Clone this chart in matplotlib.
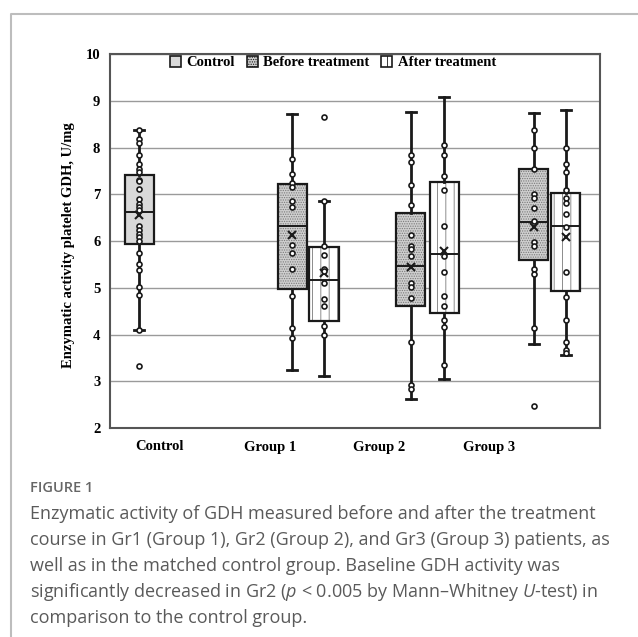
import matplotlib
matplotlib.use("Agg")
import matplotlib.pyplot as plt
from matplotlib.lines import Line2D
from matplotlib.patches import Patch

# ---- data (U/mg) ----
categories = ["Control", "Group 1", "Group 2", "Group 3"]
series = ["Control", "Before treatment", "After treatment"]

box_labels = ["Control", "G1 before", "G1 after", "G2 before", "G2 after", "G3 before", "G3 after"]
box_series = [0, 1, 2, 1, 2, 1, 2]
box_pos = [0.237, 1.486, 1.747, 2.457, 2.727, 3.461, 3.722]
tick_pos = [0.408, 1.306, 2.196, 3.094]

q1 = [5.94, 4.97, 4.29, 4.61, 4.47, 5.59, 4.94]
med = [6.62, 6.33, 5.17, 5.47, 5.72, 6.40, 6.33]
q3 = [7.42, 7.21, 5.87, 6.59, 7.27, 7.55, 7.02]
wlo = [4.10, 3.24, 3.11, 2.61, 3.04, 3.79, 3.56]
whi = [8.38, 8.71, 6.85, 8.77, 9.08, 8.73, 8.81]
means = [6.55, 6.12, 5.32, 5.44, 5.78, 6.29, 6.08]
outliers = [[3.33], [], [8.65], [], [], [2.47], []]

points = [
    [8.38, 8.19, 8.09, 7.84, 7.65, 7.55, 7.48, 7.31, 7.28, 7.11, 6.89, 6.80, 6.73,
     6.67, 6.32, 6.24, 6.16, 6.09, 6.01, 5.74, 5.51, 5.39, 5.01, 4.85, 4.10],
    [7.75, 7.43, 7.25, 7.16, 6.85, 6.72, 5.92, 5.74, 5.40, 4.83, 4.14, 3.92],
    [6.85, 5.90, 5.71, 5.40, 5.35, 5.10, 4.76, 4.60, 4.19, 3.99],
    [7.83, 7.69, 7.20, 6.76, 6.12, 5.89, 5.82, 5.67, 5.11, 5.01, 4.79, 3.84, 2.93, 2.84],
    [8.05, 7.83, 7.39, 7.10, 6.32, 5.67, 5.33, 4.83, 4.61, 4.31, 4.15, 3.35],
    [8.37, 7.99, 7.55, 7.01, 6.92, 6.71, 6.42, 5.97, 5.89, 5.40, 5.29, 4.13],
    [7.98, 7.65, 7.47, 7.09, 6.91, 6.82, 6.58, 6.30, 5.34, 4.81, 4.30, 3.83, 3.67, 3.61],
]

face = ["#d9d9d9", "#cfcfcf", "white"]
hatch = ["", ".......", "||"]

SERIF = "Liberation Serif"
SANS = "Open Sans"
plt.rcParams["hatch.linewidth"] = 0.6
plt.rcParams["mathtext.fontset"] = "custom"
plt.rcParams["mathtext.rm"] = SANS
plt.rcParams["mathtext.it"] = SANS + ":italic"

W, H = 638, 637
fig = plt.figure(figsize=(W / 100, H / 100), dpi=100)
ax = fig.add_axes([110 / W, (H - 428) / H, 490 / W, (428 - 54) / H])

stats = []
for i in range(len(box_labels)):
    stats.append({"label": box_labels[i], "q1": q1[i], "med": med[i], "q3": q3[i],
                  "whislo": wlo[i], "whishi": whi[i], "mean": means[i], "fliers": outliers[i]})

bw = 0.237
# fill / hatch layer
for i, st in enumerate(stats):
    s = box_series[i]
    ax.bxp([st], positions=[box_pos[i]], widths=bw, patch_artist=True,
           showcaps=False, showfliers=False, showmeans=False,
           boxprops=dict(facecolor=face[s], hatch=hatch[s], edgecolor="#7a7a7a", linewidth=0),
           whiskerprops=dict(linewidth=0), medianprops=dict(linewidth=0), zorder=2)
# outline layer
ax.bxp(stats, positions=box_pos, widths=bw, patch_artist=True, showmeans=True,
       boxprops=dict(facecolor="none", edgecolor="#1a1a1a", linewidth=1.6),
       whiskerprops=dict(color="#1a1a1a", linewidth=2.0),
       capprops=dict(color="#1a1a1a", linewidth=2.0),
       capwidths=0.075,
       medianprops=dict(color="#1a1a1a", linewidth=1.4),
       meanprops=dict(marker="x", markeredgecolor="#1a1a1a", markersize=6, markeredgewidth=1.5),
       flierprops=dict(marker="o", markersize=3.6, markerfacecolor="white",
                       markeredgecolor="#1a1a1a", markeredgewidth=1.2),
       zorder=3)

for i, pts in enumerate(points):
    ax.plot([box_pos[i]] * len(pts), pts, "o", ms=3.6, mfc="white", mec="#1a1a1a",
            mew=1.2, zorder=4)

ax.set_xlim(0, 4)
ax.set_ylim(2, 10)
ax.set_yticks(range(2, 11))
ax.yaxis.grid(True, color="#9a9a9a", linewidth=1.0)
ax.set_axisbelow(True)
ax.set_xticks(tick_pos)
ax.set_xticklabels(categories)
ax.tick_params(length=0)
ax.tick_params(axis="y", pad=7)
ax.tick_params(axis="x", pad=9)
for lab in ax.get_xticklabels() + ax.get_yticklabels():
    lab.set_fontfamily(SERIF)
    lab.set_fontweight("bold")
    lab.set_fontsize(10.5)
for sp in ax.spines.values():
    sp.set_color("#555555")
    sp.set_linewidth(1.5)

ax.set_ylabel("Enzymatic activity platelet GDH, U/mg", fontfamily=SERIF,
              fontweight="bold", fontsize=10.5)
ax.yaxis.set_label_coords(-(110 - 75) / 490, 0.49)

handles = [Patch(facecolor=face[k], hatch=hatch[k], edgecolor="#1a1a1a", linewidth=1.2)
           for k in range(3)]
ax.legend(handles, series, loc="upper center", bbox_to_anchor=(0.455, 1.03), ncol=3,
          frameon=False, handlelength=0.75, handleheight=0.75, handletextpad=0.4,
          columnspacing=0.8, prop=dict(family=SERIF, weight="bold", size=10.5))

# outer frame
fig.add_artist(Line2D([11 / W, 11 / W, 1.0], [0.0, 1 - 14 / H, 1 - 14 / H],
                      transform=fig.transFigure, color="#bdbdbd", linewidth=1.5))

# caption
fig.text(30 / W, 1 - 492 / H, "FIGURE 1", fontfamily=SANS, fontsize=10.5,
         fontweight="semibold", color="#666666", va="baseline")
cap_lines = [
    "Enzymatic activity of GDH measured before and after the treatment",
    "course in Gr1 (Group 1), Gr2 (Group 2), and Gr3 (Group 3) patients, as",
    "well as in the matched control group. Baseline GDH activity was",
    r"significantly decreased in Gr2 ($\it{p}$ < 0.005 by Mann–Whitney $\it{U}$-test) in",
    "comparison to the control group.",
]
for k, line in enumerate(cap_lines):
    fig.text(30 / W, 1 - (519 + 26 * k) / H, line, fontfamily=SANS, fontsize=13,
             color="#5a5a5a", va="baseline")

fig.savefig("out.png", dpi=100)
